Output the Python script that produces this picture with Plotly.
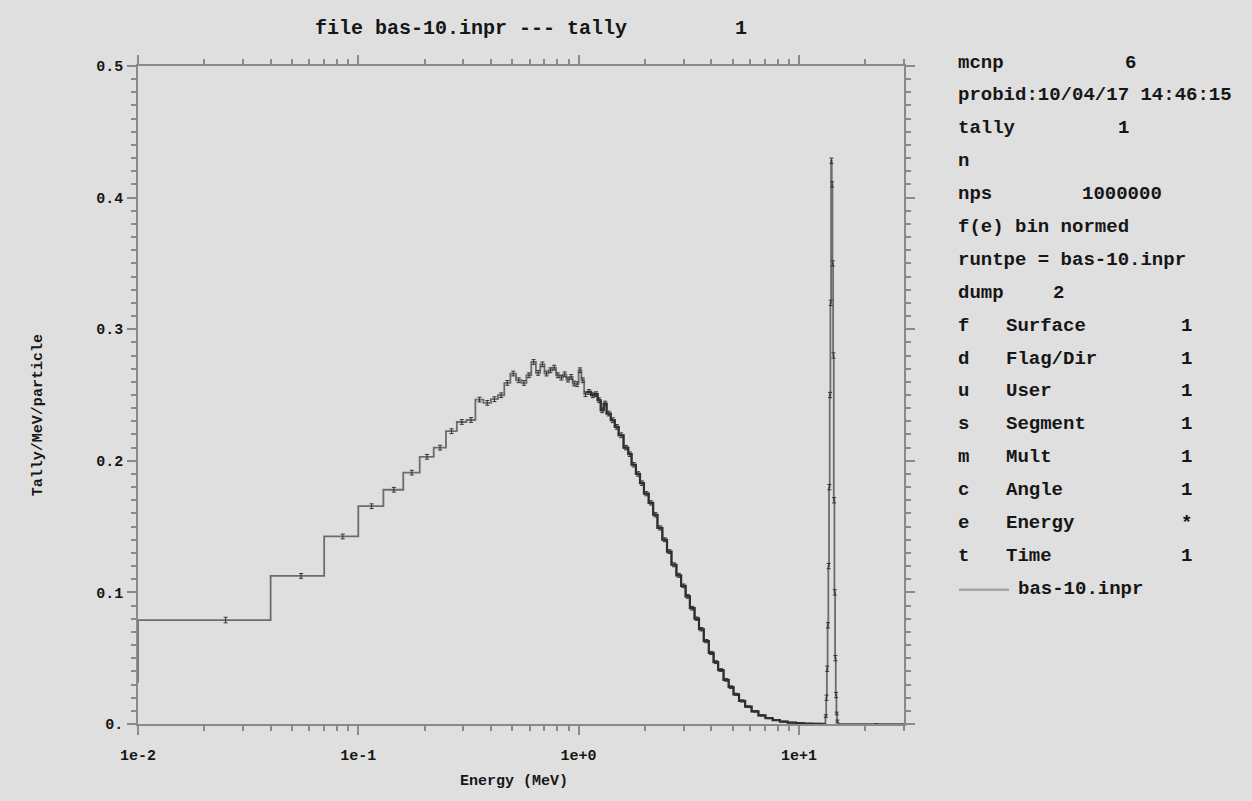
import plotly.graph_objects as go

# ---------------- data ----------------
# bin left edges (MeV) and bin values (tally/MeV/particle)
pre_edge = [0.001]
pre_vals = [0.032]

low_edges = [0.01, 0.04, 0.07, 0.10, 0.13, 0.16, 0.19, 0.22, 0.25, 0.28,
             0.31, 0.34, 0.37, 0.40, 0.43, 0.46, 0.49, 0.52, 0.55, 0.58,
             0.61, 0.64, 0.67, 0.70, 0.73, 0.76, 0.79, 0.82, 0.85, 0.88,
             0.91, 0.94, 0.97, 1.00, 1.03, 1.06]
low_vals = [0.0790, 0.1125, 0.1425, 0.1655, 0.1780, 0.1910, 0.2030, 0.2100, 0.2225, 0.2295,
            0.2310, 0.2465, 0.2440, 0.2468, 0.2498, 0.2592, 0.2663, 0.2612, 0.2592, 0.2650,
            0.2751, 0.2668, 0.2733, 0.2663, 0.2688, 0.2708, 0.2650, 0.2632, 0.2657, 0.2617,
            0.2637, 0.2587, 0.2582, 0.2688, 0.2612, 0.2506]
low_err = [0.0021, 0.0018, 0.0018, 0.0018, 0.0018, 0.0018, 0.0018, 0.0018, 0.0018, 0.0018,
           0.0018, 0.0018, 0.0018, 0.0018, 0.0018, 0.0018, 0.0018, 0.0018, 0.0018, 0.0018,
           0.0018, 0.0018, 0.0018, 0.0018, 0.0018, 0.0018, 0.0018, 0.0018, 0.0018, 0.0018,
           0.0018, 0.0018, 0.0018, 0.0018, 0.0018, 0.0018]

high_edges = [1.09, 1.14, 1.18, 1.22, 1.26, 1.30, 1.34, 1.40, 1.46, 1.52,
              1.60, 1.68, 1.74, 1.82, 1.90, 1.98, 2.08, 2.18, 2.28, 2.40,
              2.52, 2.64, 2.78, 2.92, 3.06, 3.20, 3.36, 3.52, 3.70, 3.90,
              4.10, 4.30, 4.55, 4.80, 5.05, 5.35, 5.70, 6.10, 6.55, 7.05,
              7.60, 8.20, 8.90, 9.70, 10.5, 11.5, 12.5]
high_vals = [0.2523, 0.2498, 0.2506, 0.2460, 0.2384, 0.2435, 0.2359, 0.2308, 0.2258, 0.2194,
             0.2100, 0.2050, 0.1970, 0.1900, 0.1830, 0.1750, 0.1680, 0.1590, 0.1490, 0.1400,
             0.1310, 0.1210, 0.1130, 0.1050, 0.0970, 0.0880, 0.0800, 0.0720, 0.0630, 0.0540,
             0.0470, 0.0410, 0.0335, 0.0280, 0.0225, 0.0175, 0.0132, 0.0096, 0.0065, 0.0045,
             0.0029, 0.0018, 0.0010, 0.0006, 0.0003, 0.0002, 0.0001]
high_err = [0.0018, 0.0018, 0.0018, 0.0018, 0.0018, 0.0018, 0.0018, 0.0018, 0.0018, 0.0018,
            0.0017, 0.0017, 0.0017, 0.0017, 0.0017, 0.0016, 0.0016, 0.0016, 0.0016, 0.0015,
            0.0015, 0.0015, 0.0015, 0.0014, 0.0014, 0.0014, 0.0013, 0.0013, 0.0012, 0.0012,
            0.0011, 0.0011, 0.0010, 0.0010, 0.0009, 0.0008, 0.0007, 0.0006, 0.0005, 0.0004,
            0.0003, 0.0003, 0.0002, 0.0002, 0.0001, 0.0001, 0.0001]

peak_edges = [13.2, 13.3, 13.4, 13.5, 13.6, 13.7, 13.8, 13.9, 14.0, 14.1,
              14.2, 14.3, 14.4, 14.5, 14.6, 14.7, 14.8, 14.9, 15.0]
peak_vals = [0.006, 0.020, 0.042, 0.075, 0.120, 0.180, 0.250, 0.320, 0.428, 0.410,
             0.350, 0.280, 0.170, 0.100, 0.050, 0.022, 0.008, 0.002, 0.0]
peak_err = [0.001, 0.002, 0.002, 0.002, 0.002, 0.002, 0.002, 0.002, 0.002, 0.002,
            0.002, 0.002, 0.002, 0.002, 0.002, 0.002, 0.001, 0.001, 0.0]
last_edge = 30.0

x_ticks = [0.01, 0.1, 1, 10]
x_tick_text = ["1e-2", "1e-1", "1e+0", "1e+1"]
y_ticks = [0, 0.1, 0.2, 0.3, 0.4, 0.5]
y_tick_text = ["0.", "0.1", "0.2", "0.3", "0.4", "0.5"]

title_text = "file bas-10.inpr --- tally" + "\u00a0" * 9 + "1"
x_title = "Energy (MeV)"
y_title = "Tally/MeV/particle"
series_name = "bas-10.inpr"

info_rows = [
    [("mcnp", 958), ("6", 1125)],
    [("probid:10/04/17 14:46:15", 958)],
    [("tally", 958), ("1", 1118)],
    [("n", 958)],
    [("nps", 958), ("1000000", 1082)],
    [("f(e) bin normed", 958)],
    [("runtpe = bas-10.inpr", 958)],
    [("dump", 958), ("2", 1053)],
    [("f", 958), ("Surface", 1006), ("1", 1181)],
    [("d", 958), ("Flag/Dir", 1006), ("1", 1181)],
    [("u", 958), ("User", 1006), ("1", 1181)],
    [("s", 958), ("Segment", 1006), ("1", 1181)],
    [("m", 958), ("Mult", 1006), ("1", 1181)],
    [("c", 958), ("Angle", 1006), ("1", 1181)],
    [("e", 958), ("Energy", 1006), ("*", 1181)],
    [("t", 958), ("Time", 1006), ("1", 1181)],
]

# ---------------- geometry helpers (pixel -> paper) ----------------
W, H = 1252, 801
PL, PR, PT, PB = 138, 904, 65.7, 724.0


def px(x):
    return (x - PL) / (PR - PL)


def py(y):
    return (PB - y) / (PB - PT)


FONT = "Courier New, Liberation Mono, monospace"
BG = "#dfdfdf"
TXT = "#161616"
AX = "#8a8a8a"

all_edges = pre_edge + low_edges + high_edges + peak_edges + [last_edge]
all_vals = pre_vals + low_vals + high_vals + peak_vals + [peak_vals[-1]]

dense_edges = high_edges + [peak_edges[0]]
dense_vals = high_vals + [high_vals[-1]]

fig = go.Figure()

# main histogram (step line)
fig.add_trace(go.Scatter(x=all_edges, y=all_vals, mode="lines", line_shape="hv",
                         line=dict(color="#6c6c6c", width=1.8), showlegend=False,
                         hoverinfo="skip"))
# dense part looks darker (many overlapping error bars)
fig.add_trace(go.Scatter(x=dense_edges, y=dense_vals, mode="lines", line_shape="hv",
                         line=dict(color="#2e2e2e", width=2.2), showlegend=False,
                         hoverinfo="skip"))


# error bars at bin centres
def centres(edges, nxt):
    e = edges + [nxt]
    return [(e[i] + e[i + 1]) / 2 for i in range(len(edges))]


err_x = centres(low_edges, high_edges[0]) + centres(high_edges, peak_edges[0]) + centres(peak_edges, last_edge)
err_y = low_vals + high_vals + peak_vals
err_v = low_err + high_err + peak_err
fig.add_trace(go.Scatter(x=err_x, y=err_y, mode="markers",
                         marker=dict(size=1, color="#333333"),
                         error_y=dict(type="data", array=err_v, visible=True,
                                      color="#333333", thickness=1, width=2),
                         showlegend=False, hoverinfo="skip"))

minor_x = [m * 10 ** k for k in (-2, -1, 0, 1) for m in range(2, 10) if m * 10 ** k <= 30]

fig.update_xaxes(type="log", range=[-2, 1.4771], showline=True, linecolor=AX, linewidth=1.5,
                 mirror="ticks", ticks="outside", ticklen=9, tickwidth=1.5, tickcolor=AX,
                 tickvals=x_ticks, ticktext=x_tick_text, showgrid=False, zeroline=False,
                 ticklabelstandoff=7,
                 tickfont=dict(family=FONT, size=15, color=TXT, weight="bold"),
                 minor=dict(tickvals=minor_x, ticks="outside", ticklen=5, tickwidth=1.5,
                            tickcolor=AX, showgrid=False))
fig.update_yaxes(range=[0, 0.5], showline=True, linecolor=AX, linewidth=1.5,
                 mirror="ticks", ticks="outside", ticklen=9, tickwidth=1.5, tickcolor=AX,
                 tickvals=y_ticks, ticktext=y_tick_text, showgrid=False, zeroline=False,
                 ticklabelstandoff=1,
                 tickfont=dict(family=FONT, size=15, color=TXT, weight="bold"),
                 minor=dict(dtick=0.01, ticks="outside", ticklen=5, tickwidth=1.5,
                            tickcolor=AX, showgrid=False))

ann = []
ann.append(dict(x=px(313), y=py(28.3), xref="paper", yref="paper", xanchor="left",
                yanchor="middle", text=title_text, showarrow=False,
                font=dict(family=FONT, size=20, color=TXT, weight="bold")))
ann.append(dict(x=px(514), y=py(782), xref="paper", yref="paper", xanchor="center",
                yanchor="middle", text=x_title, showarrow=False,
                font=dict(family=FONT, size=15, color=TXT, weight="bold")))
ann.append(dict(x=px(38), y=py(415), xref="paper", yref="paper", xanchor="center",
                yanchor="middle", text=y_title, showarrow=False, textangle=-90,
                font=dict(family=FONT, size=15, color=TXT, weight="bold")))

row0, dy = 62.3, 32.9
for i, row in enumerate(info_rows):
    for txt, xpix in row:
        ann.append(dict(x=px(xpix - 2), y=py(row0 + i * dy), xref="paper", yref="paper",
                        xanchor="left", yanchor="middle", text=txt, showarrow=False,
                        font=dict(family=FONT, size=19, color=TXT, weight="bold")))
leg_y = row0 + len(info_rows) * dy
ann.append(dict(x=px(1018 - 2), y=py(leg_y), xref="paper", yref="paper", xanchor="left",
                yanchor="middle", text=series_name, showarrow=False,
                font=dict(family=FONT, size=19, color=TXT, weight="bold")))

shapes = [dict(type="line", xref="paper", yref="paper", x0=px(959), x1=px(1009),
               y0=py(leg_y + 1), y1=py(leg_y + 1), line=dict(color="#a4a4a4", width=2.5))]

fig.update_layout(width=W, height=H, paper_bgcolor=BG, plot_bgcolor=BG,
                  margin=dict(l=PL, r=W - PR, t=PT, b=H - PB),
                  annotations=ann, shapes=shapes, showlegend=False)

fig.write_html("out.html")
